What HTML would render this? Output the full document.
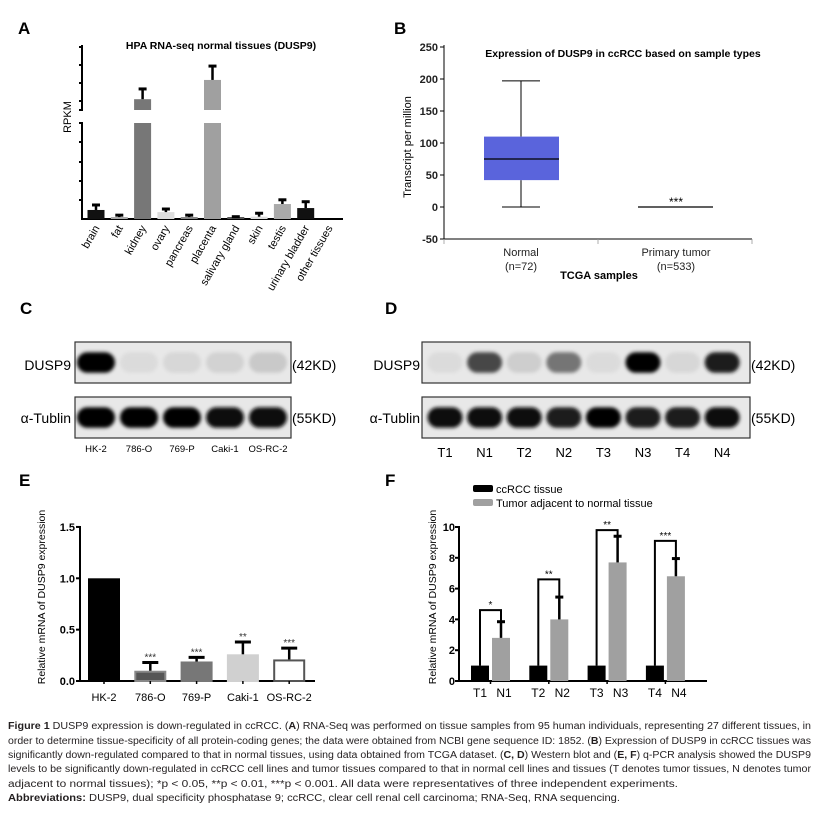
<!DOCTYPE html>
<html><head><meta charset="utf-8"><style>
html,body{margin:0;padding:0;background:#fff}
svg{display:block;font-family:"Liberation Sans",Arial,sans-serif}
</style></head><body>
<svg id="fig" width="816" height="815" viewBox="0 0 816 815" xmlns="http://www.w3.org/2000/svg">
<defs>
<filter id="blur" x="-50%" y="-100%" width="200%" height="300%"><feGaussianBlur stdDeviation="1.8"/></filter>
</defs>
<g id="gA"></g>
<g id="gB"></g>
<g id="gC"></g>
<g id="gD"></g>
<g id="gE"></g>
<g id="gF"></g>
<g id="cap" font-size="10" fill="#231f20" font-family="'Liberation Sans Narrow','Liberation Sans',sans-serif">
<text x="8" y="729" textLength="803" lengthAdjust="spacingAndGlyphs"><tspan font-weight="bold">Figure 1</tspan> DUSP9 expression is down-regulated in ccRCC. (<tspan font-weight="bold">A</tspan>) RNA-Seq was performed on tissue samples from 95 human individuals, representing 27 different tissues, in</text>
<text x="8" y="744" textLength="803" lengthAdjust="spacingAndGlyphs">order to determine tissue-specificity of all protein-coding genes; the data were obtained from NCBI gene sequence ID: 1852. (<tspan font-weight="bold">B</tspan>) Expression of DUSP9 in ccRCC tissues was</text>
<text x="8" y="758" textLength="803" lengthAdjust="spacingAndGlyphs">significantly down-regulated compared to that in normal tissues, using data obtained from TCGA dataset. (<tspan font-weight="bold">C, D</tspan>) Western blot and (<tspan font-weight="bold">E, F</tspan>) q-PCR analysis showed the DUSP9</text>
<text x="8" y="772" textLength="803" lengthAdjust="spacingAndGlyphs">levels to be significantly down-regulated in ccRCC cell lines and tumor tissues compared to that in normal cell lines and tissues (T denotes tumor tissues, N denotes tumor</text>
<text x="8" y="787" textLength="670" lengthAdjust="spacingAndGlyphs">adjacent to normal tissues); *p &lt; 0.05, **p &lt; 0.01, ***p &lt; 0.001. All data were representatives of three independent experiments.</text>
<text x="8" y="801" textLength="612" lengthAdjust="spacingAndGlyphs"><tspan font-weight="bold">Abbreviations:</tspan> DUSP9, dual specificity phosphatase 9; ccRCC, clear cell renal cell carcinoma; RNA-Seq, RNA sequencing.</text>
</g>
</svg>
<script>
// ---------- data ----------
const tissuesA = ["brain","fat","kidney","ovary","pancreas","placenta","salivary gland","skin","testis","urinary bladder","other tissues"];
const rpkmA = [0.47,0.1,26,0.36,0.1,36.7,0.1,0.12,0.78,0.57,0];
const rpkmErrA = [0.73,0.2,31.7,0.52,0.2,44.4,0.12,0.3,1.0,0.9,0];
const colorsA = ["#111","#aaa","#777","#ddd","#888","#a0a0a0","#555","#ddd","#aaa","#111","#111"];

const groupsB = ["Normal","Primary tumor"];
const countsB = ["(n=72)","(n=533)"];
const minB = [0,0], q1B = [42,0], medB = [75,0], q3B = [110,0], maxB = [197,0];
const ticksB = [-50,0,50,100,150,200,250];

const lanesC = ["HK-2","786-O","769-P","Caki-1","OS-RC-2"];
const dusp9C = [1.0,0.04,0.06,0.08,0.12];
const tubC = [1.0,1.0,1.0,0.95,0.95];
const lanesD = ["T1","N1","T2","N2","T3","N3","T4","N4"];
const dusp9D = [0.04,0.7,0.1,0.5,0.04,1.0,0.06,0.9];
const tubD = [0.95,0.95,0.95,0.9,1.0,0.9,0.9,0.95];

const cellsE = ["HK-2","786-O","769-P","Caki-1","OS-RC-2"];
const valsE = [1.0,0.1,0.19,0.26,0.21];
const errE = [0,0.18,0.23,0.38,0.32];
const starsE = ["","***","***","**","***"];
const ticksE = [0,0.5,1.0,1.5];

const pairsF = ["1","2","3","4"];
const tumorF = [1,1,1,1];
const normalF = [2.8,4.0,7.7,6.8];
const normalErrF = [3.85,5.45,9.4,7.95];
const bracketF = [4.6,6.6,9.8,9.1];
const starsF = ["*","**","**","***"];
const ticksF = [0,2,4,6,8,10];

// ---------- helpers ----------
const NS="http://www.w3.org/2000/svg";
function mk(parent,tag,attrs,txt){const e=document.createElementNS(NS,tag);for(const k in attrs)e.setAttribute(k,attrs[k]);if(txt!==undefined)e.textContent=txt;parent.appendChild(e);return e;}
function L(p,x1,y1,x2,y2,w,c){return mk(p,"line",{x1,y1,x2,y2,stroke:c||"#000","stroke-width":w||1.5});}

// ---------- Panel A ----------
(function(){
 const g=document.getElementById("gA");
 const X0=82, base=219;
 const xA=i=>96+i*23.3;
 const yLow=v=>base-v*19.2;
 const yUp=v=>110-(v-20)*1.8;
 const yA=v=>v<=5?yLow(v):yUp(v);
 let t=mk(g,"text",{x:18,y:34,"font-size":17,"font-weight":"bold"},"A");
 
 t=mk(g,"text",{x:221,y:49,"font-size":10.5,"font-weight":"bold","text-anchor":"middle"},"HPA RNA-seq normal tissues (DUSP9)");
 
 t=mk(g,"text",{x:0,y:0,"font-size":11,"text-anchor":"middle",transform:"translate(71,117) rotate(-90)"},"RPKM");
 
 const ax=mk(g,"g",{});
 
 L(ax,X0,45,X0,111,2);L(ax,X0,122,X0,base,2);
 [47,65,83,101,110].forEach(y=>L(ax,X0-3,y,X0+1,y,2));
 [123,142,162,181,200].forEach(y=>L(ax,X0-3,y,X0+1,y,2));
 const xa=L(g,X0-1,base,343,base,2);
 
 tissuesA.forEach((n,i)=>{
  const cx=xA(i),w=17,v=rpkmA[i];
  if(v>0){
   if(v>5){
    const r1=mk(g,"rect",{x:cx-w/2,y:yLow(5),width:w,height:base-yLow(5),fill:colorsA[i]});
    
    const r2=mk(g,"rect",{x:cx-w/2,y:yUp(v),width:w,height:110-yUp(v),fill:colorsA[i]});
    
   } else {
    const r=mk(g,"rect",{x:cx-w/2,y:Math.min(yA(v),base-2),width:w,height:Math.max(base-yA(v),2),fill:colorsA[i]});
    
   }
   const e=rpkmErrA[i];
   L(g,cx,yA(v),cx,yA(e),2.5,"#000");L(g,cx-4,yA(e),cx+4,yA(e),3,"#000");
  }
  const lb=mk(g,"text",{x:0,y:0,"font-size":11,"text-anchor":"end",transform:`translate(${cx+4},${base+9}) rotate(-60)`},n);
  
 });
})();

// ---------- Panel B ----------
(function(){
 const g=document.getElementById("gB");
 const X0=444,yB=v=>207-v*0.64;
 const xB=i=>521+i*155;
 let t=mk(g,"text",{x:394,y:34,"font-size":17,"font-weight":"bold"},"B");
 
 t=mk(g,"text",{x:623,y:57,"font-size":10.5,"font-weight":"bold","text-anchor":"middle"},"Expression of DUSP9 in ccRCC based on sample types");
 
 t=mk(g,"text",{x:0,y:0,"font-size":11,"text-anchor":"middle",transform:"translate(411,147) rotate(-90)"},"Transcript per million");
 
 const ya=L(g,X0,45,X0,yB(-50),1);
 ticksB.forEach(v=>{L(g,X0-4,yB(v),X0,yB(v),1);
  const tl=mk(g,"text",{x:X0-6,y:yB(v)+4,"font-size":11,"font-weight":"bold","text-anchor":"end",fill:"#222"},String(v));
  });
 const xa=L(g,X0,yB(-50),752,yB(-50),1);
 [X0,598,752].forEach(x=>L(g,x,yB(-50),x,yB(-50)+5,0.8,"#999"));
 groupsB.forEach((n,i)=>{
  const cx=xB(i);
  if(q3B[i]>q1B[i]){
   L(g,cx,yB(maxB[i]),cx,yB(q3B[i]),1);L(g,cx,yB(q1B[i]),cx,yB(minB[i]),1);
   L(g,cx-19,yB(maxB[i]),cx+19,yB(maxB[i]),1);L(g,cx-19,yB(minB[i]),cx+19,yB(minB[i]),1);
   const b=mk(g,"rect",{x:cx-37,y:yB(q3B[i]),width:75,height:yB(q1B[i])-yB(q3B[i]),fill:"#5a64dc"});
   
   L(g,cx-37,yB(medB[i]),cx+38,yB(medB[i]),1.2);
  } else {
   const ln=L(g,cx-38,yB(medB[i]),cx+37,yB(medB[i]),1.2);
   
   const s=mk(g,"text",{x:cx,y:yB(medB[i])-1,"font-size":12,"text-anchor":"middle"},"***");
   
  }
  let a=mk(g,"text",{x:cx,y:256,"font-size":11,"text-anchor":"middle",fill:"#222"},n);
  
  a=mk(g,"text",{x:cx,y:270,"font-size":11,"text-anchor":"middle",fill:"#222"},countsB[i]);
  
 });
 t=mk(g,"text",{x:599,y:279,"font-size":11,"font-weight":"bold","text-anchor":"middle"},"TCGA samples");
 
})();

// ---------- Blots ----------
function blot(g,x0,x1,y0,y1,centers,vals,w,name){
 const r=mk(g,"rect",{x:x0,y:y0,width:x1-x0,height:y1-y0,fill:"#e8e8e8",stroke:"#333","stroke-width":1.2});
 
 const h=(y1-y0)*0.5;
 centers.forEach((cx,i)=>{const v=vals[i];
  const c=Math.round(228-224*v);
  const e=mk(g,"rect",{x:cx-w/2,y:(y0+y1)/2-h/2,width:w,height:h,rx:h/2,fill:`rgb(${c},${c},${c})`,filter:"url(#blur)"});
  });
}
(function(){
 const g=document.getElementById("gC");
 let t=mk(g,"text",{x:20,y:314,"font-size":17,"font-weight":"bold"},"C");
 
 const xC=i=>96+i*43;
 const cs=lanesC.map((_,i)=>xC(i));
 blot(g,75,291,342,383,cs,dusp9C,38,"blot-c-dusp9");
 blot(g,75,291,397,438,cs,tubC,38,"blot-c-tublin");
 t=mk(g,"text",{x:71,y:370,"font-size":14,"text-anchor":"end"},"DUSP9");
 t=mk(g,"text",{x:71,y:423,"font-size":14,"text-anchor":"end"},"α-Tublin");
 t=mk(g,"text",{x:292,y:370,"font-size":14},"(42KD)");
 t=mk(g,"text",{x:292,y:423,"font-size":14},"(55KD)");
 lanesC.forEach((n,i)=>{const l=mk(g,"text",{x:xC(i),y:452,"font-size":9.5,"text-anchor":"middle"},n);
  });
})();
(function(){
 const g=document.getElementById("gD");
 let t=mk(g,"text",{x:385,y:314,"font-size":17,"font-weight":"bold"},"D");
 
 const xD=i=>445+i*39.6;
 const cs=lanesD.map((_,i)=>xD(i));
 blot(g,422,750,342,383,cs,dusp9D,35,"blot-d-dusp9");
 blot(g,422,750,397,438,cs,tubD,35,"blot-d-tublin");
 t=mk(g,"text",{x:420,y:370,"font-size":14,"text-anchor":"end"},"DUSP9");
 t=mk(g,"text",{x:420,y:423,"font-size":14,"text-anchor":"end"},"α-Tublin");
 t=mk(g,"text",{x:751,y:370,"font-size":14},"(42KD)");
 t=mk(g,"text",{x:751,y:423,"font-size":14},"(55KD)");
 lanesD.forEach((n,i)=>{const l=mk(g,"text",{x:xD(i),y:457,"font-size":13,"text-anchor":"middle"},n);
  });
})();

// ---------- Panel E ----------
(function(){
 const g=document.getElementById("gE");
 const X0=80,yE=v=>681-v*102.7,xE=i=>104+i*46.3;
 const fills=["#000","#555","#777","#d0d0d0","#fff"],strokes=["#000","#888","#777","#d0d0d0","#555"];
 let t=mk(g,"text",{x:19,y:486,"font-size":17,"font-weight":"bold"},"E");
 
 t=mk(g,"text",{x:0,y:0,"font-size":10.5,"text-anchor":"middle",transform:"translate(45,597) rotate(-90)"},"Relative mRNA of DUSP9 expression");
 
 const ya=L(g,X0,yE(1.5)-1,X0,681,2);
 ticksE.forEach(v=>{L(g,X0-4,yE(v),X0,yE(v),2);
  const tl=mk(g,"text",{x:X0-5,y:yE(v)+4,"font-size":11,"font-weight":"bold","text-anchor":"end"},v.toFixed(1));
  });
 const xa=L(g,X0-1,681,315,681,2);
 cellsE.forEach((n,i)=>{const cx=xE(i),v=valsE[i];
  const b=mk(g,"rect",{x:cx-15,y:yE(v)+1,width:30,height:681-yE(v)-1,fill:fills[i],stroke:strokes[i],"stroke-width":2});
  
  if(errE[i]>0){L(g,cx,yE(v),cx,yE(errE[i]),2.5);L(g,cx-8,yE(errE[i]),cx+8,yE(errE[i]),3);
   const s=mk(g,"text",{x:cx,y:yE(errE[i])-2,"font-size":10,"text-anchor":"middle",fill:"#333"},starsE[i]);
   }
  L(g,cx,681,cx,684,1.5);
  const l=mk(g,"text",{x:cx,y:701,"font-size":11,"text-anchor":"middle"},n);
  
 });
})();

// ---------- Panel F ----------
(function(){
 const g=document.getElementById("gF");
 const X0=459,yF=v=>681-v*15.4,xT=i=>480+i*58.3,xN=i=>501+i*58.3;
 let t=mk(g,"text",{x:385,y:486,"font-size":17,"font-weight":"bold"},"F");
 
 t=mk(g,"text",{x:0,y:0,"font-size":10.5,"text-anchor":"middle",transform:"translate(436,597) rotate(-90)"},"Relative mRNA of DUSP9 expression");
 
 let r=mk(g,"rect",{x:473,y:485,width:20,height:7,fill:"#000",rx:2});
 t=mk(g,"text",{x:496,y:493,"font-size":11},"ccRCC tissue");
 r=mk(g,"rect",{x:473,y:499,width:20,height:7,fill:"#a0a0a0",rx:2});
 t=mk(g,"text",{x:496,y:507,"font-size":11},"Tumor adjacent to normal tissue");
 const ya=L(g,X0,yF(10)-1,X0,681,2);
 ticksF.forEach(v=>{L(g,X0-4,yF(v),X0,yF(v),2);
  const tl=mk(g,"text",{x:X0-4,y:yF(v)+4,"font-size":11,"font-weight":"bold","text-anchor":"end"},String(v));
  });
 const xa=L(g,X0-1,681,707,681,2);
 pairsF.forEach((p,i)=>{
  const a=xT(i),b=xN(i);
  let bt=mk(g,"rect",{x:a-9,y:yF(tumorF[i]),width:18,height:681-yF(tumorF[i]),fill:"#000"});
  
  let bn=mk(g,"rect",{x:b-9,y:yF(normalF[i]),width:18,height:681-yF(normalF[i]),fill:"#a0a0a0"});
  
  L(g,b,yF(normalF[i]),b,yF(normalErrF[i]),2.5);L(g,b-4,yF(normalErrF[i]),b+4,yF(normalErrF[i]),3);
  const by=yF(bracketF[i]);
  const br=mk(g,"polyline",{points:`${a},${yF(tumorF[i])} ${a},${by} ${b},${by} ${b},${yF(normalErrF[i])}`,fill:"none",stroke:"#000","stroke-width":2});
  
  const s=mk(g,"text",{x:(a+b)/2,y:by-2,"font-size":10,"text-anchor":"middle"},starsF[i]);
  
  L(g,(a+b)/2,681,(a+b)/2,684,1.5);
  let l=mk(g,"text",{x:a,y:697,"font-size":12,"text-anchor":"middle"},"T"+p);
  
  l=mk(g,"text",{x:b+3,y:697,"font-size":12,"text-anchor":"middle"},"N"+p);
  
 });
})();
</script>
</body></html>
